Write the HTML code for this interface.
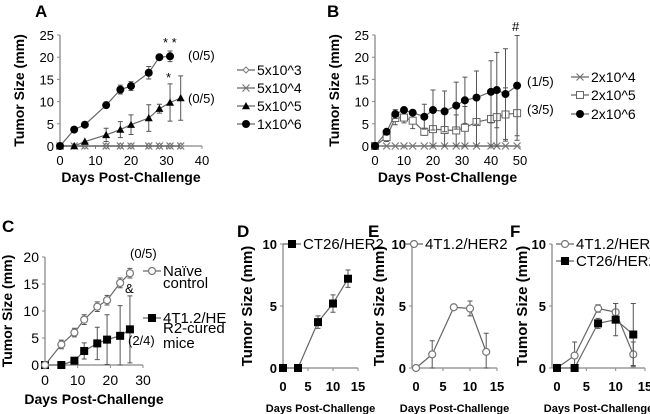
<!DOCTYPE html>
<html><head><meta charset="utf-8"><style>
html,body{margin:0;padding:0;background:#fff}
svg{display:block;font-family:"Liberation Sans","NanumGothic",sans-serif}
</style></head><body>
<svg id="fig" width="650" height="414" viewBox="0 0 650 414"></svg>
<script>
// Panel A
const aDays1=[0,4,7,13,17,20,25,28,31];
const aVal1=[0,3.7,4.8,9.2,12.7,13.5,16.5,20,20.2];
const aErr1=[0,0,0,0,1,1,1.4,0,1.2];
const aDays2=[0,4,7,13,17,20,25,28,31,34];
const aVal2=[0,0,1,2.5,3.7,4.8,6.3,8.4,9.8,10.8];
const aErr2=[0,0,0,1.5,1.8,2.2,3,1,4.2,5];
const aDays3=[0,4,7,13,17,20,25,28,31,34];
const aVal3=[0,0,0,0,0,0,0,0,0,0];
const aXTicks=[0,10,20,30,40];
const aYTicks=[0,5,10,15,20,25];
// Panel B
const bDays=[0,4,7,10,13,17,20,24,28,31,35,40,42,45,49];
const bVal6=[0,3.2,7.2,8.1,7.5,6.6,8.1,7.8,9.1,10.3,10.9,12.2,12.6,11.7,13.6];
const bErr6=[0,0.5,1,0.5,0.5,2.8,4.5,4.6,5.3,5.2,6,7,8.5,10.2,11.3];
const bVal5=[0,2,6.3,6.4,5.7,3.2,3.8,3.6,3.5,4.1,5.4,6.1,6.5,7.1,7.4];
const bErr5=[0,1,1.5,1.2,1.8,0.8,3.8,3.6,3.5,4.8,5.4,6.1,6.5,6,6.1];
const bVal4=[0,0,0,0,0,0,0,0,0,0,0,0,0,0,0];
const bXTicks=[0,10,20,30,40,50];
const bYTicks=[0,5,10,15,20,25];
// Panel C
const cDays=[0,5,9,12,16,19,23,26];
const cNaive=[0,3.8,6,8.4,10.8,12,15.2,17];
const cNaiveErr=[0,0.8,0.8,0.9,0.9,0.9,0.9,0.9];
const cCured=[0,0,0.8,2.6,4,4.7,5.4,6.6];
const cCuredErr=[0,0,0,1.5,3,4.6,5.6,6.2];
const cXTicks=[0,10,20,30];
const cYTicks=[0,5,10,15,20];
// Panels D-F
const dfDays=[0,3,7,10,13];
const dCT26=[0,0,3.7,5.2,7.2];
const dCT26Err=[0,0,0.5,0.7,0.7];
const e4T1=[0,1.1,4.9,4.8,1.3];
const e4T1Err=[0,1.1,0,0.6,1.5];
const f4T1=[0,1,4.8,4.5,1.1];
const f4T1Err=[0,1.1,0.3,0.7,1];
const fCT26=[0,0,3.6,3.9,2.7];
const fCT26Err=[0,0,0.4,1.3,2.5];
const dfXTicks=[0,5,10,15];
const dfYTicks=[0,5,10];

const NS="http://www.w3.org/2000/svg";
const svg=document.getElementById('fig');
function mk(tag,attrs,parent,name,txt){
  const e=document.createElementNS(NS,tag);
  for(const k in attrs)e.setAttribute(k,attrs[k]);
  
  
  if(txt!==undefined)e.textContent=txt;
  (parent||svg).appendChild(e);return e;
}
function scale(d0,d1,p0,p1){return v=>p0+(v-d0)*(p1-p0)/(d1-d0);}
function marker(g,type,x,y,s,name){
  if(type==='circle')mk('circle',{cx:x,cy:y,r:s,fill:'#000'},g,name);
  else if(type==='ocircle')mk('circle',{cx:x,cy:y,r:s,fill:'#fff',stroke:'#777','stroke-width':1.2},g,name);
  else if(type==='square')mk('rect',{x:x-s,y:y-s,width:2*s,height:2*s,fill:'#000'},g,name);
  else if(type==='osquare')mk('rect',{x:x-s,y:y-s,width:2*s,height:2*s,fill:'#fff',stroke:'#666','stroke-width':1},g,name);
  else if(type==='tri')mk('polygon',{points:`${x},${y-s} ${x-s},${y+s*0.8} ${x+s},${y+s*0.8}`,fill:'#000'},g,name);
  else if(type==='diamond')mk('polygon',{points:`${x},${y-s} ${x+s},${y} ${x},${y+s} ${x-s},${y}`,fill:'#fff',stroke:'#777'},g,name);
  else if(type==='x'){mk('path',{d:`M${x-s},${y-s}L${x+s},${y+s}M${x-s},${y+s}L${x+s},${y-s}`,stroke:'#777','stroke-width':1.2,fill:'none'},g,name);}
}
function series(g,xs,ys,days,vals,errs,type,s,name){
  const sg=mk('g',{},g,name);
  if(errs)days.forEach((d,i)=>{if(errs[i]>0){const x=xs(d);
    mk('path',{d:`M${x},${ys(vals[i]+errs[i])}V${ys(Math.max(0,vals[i]-errs[i]))}M${x-2.5},${ys(vals[i]+errs[i])}h5M${x-2.5},${ys(Math.max(0,vals[i]-errs[i]))}h5`,stroke:'#555','stroke-width':1,fill:'none'},sg,name+'-error-bar');}});
  mk('polyline',{points:days.map((d,i)=>xs(d)+','+ys(vals[i])).join(' '),fill:'none',stroke:'#666','stroke-width':1.2},sg,name+'-line');
  days.forEach((d,i)=>marker(sg,type,xs(d),ys(vals[i]),s,name+'-point'));
}
function axes(g,c){
  const xs=scale(c.xd[0],c.xd[1],c.x0,c.x1), ys=scale(c.yd[0],c.yd[1],c.y0,c.y1);
  mk('line',{x1:c.ax,y1:c.y1,x2:c.ax,y2:c.y0,stroke:'#888','stroke-width':1.3},g,'y-axis');
  mk('line',{x1:c.ax,y1:c.y0,x2:c.x1,y2:c.y0,stroke:'#888','stroke-width':1.3},g,'x-axis');
  c.yt.forEach(t=>{mk('line',{x1:c.ax-3,y1:ys(t),x2:c.ax,y2:ys(t),stroke:'#888'},g,'y-tick');
    mk('text',{x:c.ax-6,y:ys(t)+5,'text-anchor':'end','font-size':c.fs,'font-weight':c.bold?'bold':'normal'},g,'y-tick-label',t);});
  c.xt.forEach(t=>{mk('line',{x1:xs(t),y1:c.y0,x2:xs(t),y2:c.y0+3,stroke:'#888'},g,'x-tick');
    mk('text',{x:xs(t),y:c.y0+c.xl,'text-anchor':'middle','font-size':c.fs,'font-weight':c.bold?'bold':'normal'},g,'x-tick-label',t);});
  mk('text',{x:(c.ax+c.x1)/2,y:c.tY,'text-anchor':'middle','font-size':c.tfs,'font-weight':'bold'},g,'x-axis-title','Days Post-Challenge');
  mk('text',{x:0,y:0,transform:`translate(${c.yX},${(c.y0+c.y1)/2}) rotate(-90)`,'text-anchor':'middle','font-size':c.yfs,'font-weight':'bold'},g,'y-axis-title','Tumor Size (mm)');
  mk('text',{x:c.lx,y:c.ly,'font-size':17,'font-weight':'bold'},g,'panel-label',c.label);
  return [xs,ys];
}
function legend(g,x,y,type,s,label,name,fs){
  const lg=mk('g',{},g,name);
  mk('line',{x1:x-9,y1:y,x2:x+9,y2:y,stroke:'#666','stroke-width':1.2},lg,'legend-line');
  marker(lg,type,x,y,s,'legend-marker');
  mk('text',{x:x+11,y:y+5,'font-size':fs||14},lg,'legend-label',label);
}
function txt(g,x,y,t,fs,name){mk('text',{x:x,y:y,'font-size':fs||14},g,name,t);}

// A
let g=mk('g',{},svg,'panel-a');
let [xs,ys]=axes(g,{xd:[0,40],yd:[0,25],x0:60,x1:202,y0:146,y1:35,ax:60,xt:aXTicks,yt:aYTicks,fs:13,xl:19,tY:182,tfs:14,yX:24,yfs:14,lx:35,ly:17,label:'A'});
series(g,xs,ys,aDays3,aVal3,null,'diamond',3,'series-5x10-3');
series(g,xs,ys,aDays3,aVal3,null,'x',3.5,'series-5x10-4');
series(g,xs,ys,aDays2,aVal2,aErr2,'tri',4,'series-5x10-5');
series(g,xs,ys,aDays1,aVal1,aErr1,'circle',4,'series-1x10-6');
txt(g,163,47,'* *',13,'annotation-significance');txt(g,166,82,'*',13,'annotation-significance');
txt(g,188,60,'(0/5)',13,'annotation-ratio');txt(g,188,103,'(0/5)',13,'annotation-ratio');
legend(g,246,70,'diamond',3,'5x10^3','legend-5x10-3');
legend(g,246,88,'x',3.5,'5x10^4','legend-5x10-4');
legend(g,246,106,'tri',4,'5x10^5','legend-5x10-5');
legend(g,246,124,'circle',4,'1x10^6','legend-1x10-6');

// B
g=mk('g',{},svg,'panel-b');
[xs,ys]=axes(g,{xd:[0,50],yd:[0,25],x0:375,x1:520,y0:146,y1:35,ax:375,xt:bXTicks,yt:bYTicks,fs:13,xl:19,tY:182,tfs:14,yX:339,yfs:14,lx:327,ly:17,label:'B'});
series(g,xs,ys,bDays,bVal4,null,'x',3.5,'series-2x10-4');
series(g,xs,ys,bDays,bVal5,bErr5,'osquare',3.5,'series-2x10-5');
series(g,xs,ys,bDays,bVal6,bErr6,'circle',4,'series-2x10-6');
txt(g,512,31,'#',13,'annotation-hash');
txt(g,527,86,'(1/5)',13,'annotation-ratio');txt(g,527,114,'(3/5)',13,'annotation-ratio');
legend(g,580,77,'x',3.5,'2x10^4','legend-2x10-4');
legend(g,580,95,'osquare',3.5,'2x10^5','legend-2x10-5');
legend(g,580,114,'circle',4,'2x10^6','legend-2x10-6');

// C
g=mk('g',{},svg,'panel-c');
[xs,ys]=axes(g,{xd:[0,30],yd:[0,20],x0:45,x1:143,y0:365,y1:257,ax:45,xt:cXTicks,yt:cYTicks,fs:14,xl:20,tY:404,tfs:14,yX:12,yfs:14,lx:2,ly:232,label:'C'});
series(g,xs,ys,cDays,cCured,cCuredErr,'square',4,'series-cured-mice');
series(g,xs,ys,cDays,cNaive,cNaiveErr,'ocircle',3.5,'series-naive-control');
txt(g,130,258,'(0/5)',13,'annotation-ratio');txt(g,125,293,'&',13,'annotation-ampersand');txt(g,128,345,'(2/4)',13,'annotation-ratio');
legend(g,152,271,'ocircle',3.5,'Naïve','legend-naive-control',15);
txt(g,163,288,'control',15,'legend-label-cont');
legend(g,152,318,'square',4,'4T1.2/HE','legend-cured-mice',15);
txt(g,163,333,'R2-cured',15,'legend-label-cont');txt(g,163,348,'mice',15,'legend-label-cont');

// D
g=mk('g',{},svg,'panel-d');
[xs,ys]=axes(g,{xd:[0,15],yd:[0,10],x0:283,x1:358,y0:368,y1:244,ax:283,xt:dfXTicks,yt:dfYTicks,fs:13,bold:true,xl:23,tY:412,tfs:11,yX:252,yfs:15,lx:237,ly:237,label:'D'});
series(g,xs,ys,dfDays,dCT26,dCT26Err,'square',4,'series-ct26-her2');
legend(g,292,244,'square',4,'CT26/HER2','legend-ct26-her2',15);

// E
g=mk('g',{},svg,'panel-e');
[xs,ys]=axes(g,{xd:[0,15],yd:[0,10],x0:416,x1:497,y0:368,y1:244,ax:412,xt:dfXTicks,yt:dfYTicks,fs:13,bold:true,xl:23,tY:412,tfs:11,yX:384,yfs:15,lx:368,ly:237,label:'E'});
series(g,xs,ys,dfDays,e4T1,e4T1Err,'ocircle',3.5,'series-4t1-her2');
legend(g,414,244,'ocircle',3.5,'4T1.2/HER2','legend-4t1-her2',15);

// F
g=mk('g',{},svg,'panel-f');
[xs,ys]=axes(g,{xd:[0,15],yd:[0,10],x0:557,x1:645,y0:368,y1:244,ax:552,xt:dfXTicks,yt:dfYTicks,fs:13,bold:true,xl:23,tY:412,tfs:11,yX:527,yfs:15,lx:510,ly:237,label:'F'});
series(g,xs,ys,dfDays,f4T1,f4T1Err,'ocircle',3.5,'series-4t1-her2');
series(g,xs,ys,dfDays,fCT26,fCT26Err,'square',4,'series-ct26-her2');
legend(g,565,244,'ocircle',3.5,'4T1.2/HER2','legend-4t1-her2',15);
legend(g,565,261,'square',4,'CT26/HER2','legend-ct26-her2',15);
</script>
</body></html>
